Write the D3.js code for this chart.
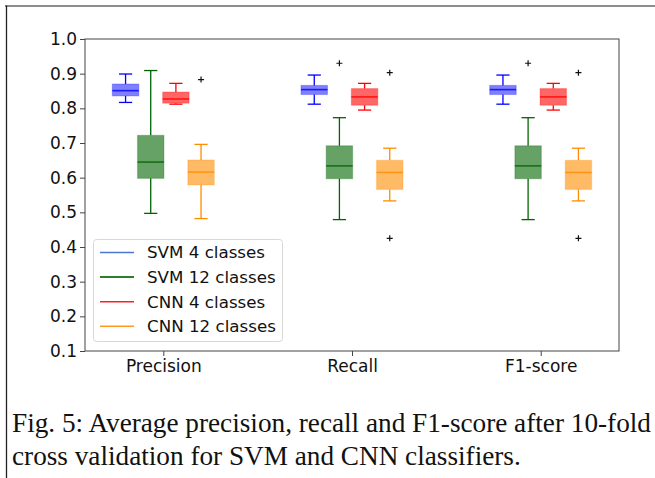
<!DOCTYPE html>
<html>
<head>
<meta charset="utf-8">
<script src="https://cdn.jsdelivr.net/npm/d3@7"></script>
<style>
  html, body { margin: 0; padding: 0; background: #fff; }
  svg { display: block; }
</style>
</head>
<body>
<svg id="chart" width="655" height="478"></svg>
<script>
// categories and series
const metrics = ['Precision', 'Recall', 'F1-score'];
const seriesNames = ['SVM 4 classes', 'SVM 12 classes', 'CNN 4 classes', 'CNN 12 classes'];
const yTicks = [0.1, 0.2, 0.3, 0.4, 0.5, 0.6, 0.7, 0.8, 0.9, 1.0];

// box stats per metric: [lower whisker, q1, median, q3, upper whisker]
const svm4 = [
	[0.817, 0.836, 0.851, 0.870, 0.899],
	[0.812, 0.840, 0.854, 0.866, 0.896],
	[0.812, 0.840, 0.854, 0.866, 0.896]
];
const svm12 = [
	[0.497, 0.598, 0.645, 0.722, 0.909],
	[0.479, 0.597, 0.634, 0.692, 0.773],
	[0.479, 0.597, 0.634, 0.692, 0.773]
];
const cnn4 = [
	[0.812, 0.815, 0.827, 0.847, 0.872],
	[0.795, 0.809, 0.833, 0.857, 0.872],
	[0.795, 0.809, 0.833, 0.857, 0.872]
];
const cnn12 = [
	[0.482, 0.579, 0.616, 0.651, 0.696],
	[0.533, 0.566, 0.615, 0.650, 0.685],
	[0.533, 0.566, 0.615, 0.650, 0.685]
];
// outliers ('+' markers)
const svm4Out = [[], [], []];
const svm12Out = [[], [0.930], [0.930]];
const cnn4Out = [[], [], []];
const cnn12Out = [[0.883], [0.903, 0.425], [0.903, 0.425]];

const captionLines = [
	'Fig. 5: Average precision, recall and F1-score after 10-fold',
	'cross validation for SVM and CNN classifiers.'
];

const allStats = [svm4, svm12, cnn4, cnn12];
const allOut = [svm4Out, svm12Out, cnn4Out, cnn12Out];
const colors = ['#0000ff', '#006400', '#ff0000', '#ff8c00'];
const fillOpacity = [0.5, 0.6, 0.6, 0.6];
const legendColors = ['#4a78d0', '#2e7d2e', '#ff2020', '#ff9a20'];
const offsets = [-0.2, -0.0667, 0.0667, 0.2];
const boxW = 0.14;

const svg = d3.select('#chart');
const font = '"DejaVu Sans", sans-serif';

// frame lines around the figure
svg.append('line').attr('x1', 5).attr('x2', 655).attr('y1', 6).attr('y2', 6)
	.attr('stroke', '#666').attr('stroke-width', 1.3);
svg.append('line').attr('x1', 6.5).attr('x2', 6.5).attr('y1', 5.5).attr('y2', 478)
	.attr('stroke', '#222').attr('stroke-width', 1.3);

const plotL = 85, plotR = 619, plotT = 39, plotB = 351;

const x = d3.scaleLinear().domain([0.585, 3.415]).range([plotL, plotR]);
const y = d3.scaleLinear().domain([0.1, 1.0]).range([plotB, plotT]);

const g = svg.append('g');

// boxes
allStats.forEach((stats, si) => {
	const c = colors[si];
	stats.forEach((s, mi) => {
		const cx = mi + 1 + offsets[si];
		const x0 = x(cx - boxW / 2), x1 = x(cx + boxW / 2);
		const xm = x(cx);
		const capHalf = (x1 - x0) / 4;
		const grp = g.append('g');
		// whiskers
		grp.append('line').attr('x1', xm).attr('x2', xm).attr('y1', y(s[3])).attr('y2', y(s[4]))
			.attr('stroke', c).attr('stroke-width', 1.3);
		grp.append('line').attr('x1', xm).attr('x2', xm).attr('y1', y(s[0])).attr('y2', y(s[1]))
			.attr('stroke', c).attr('stroke-width', 1.3);
		// caps
		[s[0], s[4]].forEach(v => {
			grp.append('line').attr('x1', xm - capHalf).attr('x2', xm + capHalf)
				.attr('y1', y(v)).attr('y2', y(v))
				.attr('stroke', c).attr('stroke-width', 1.3);
		});
		// box
		grp.append('rect').attr('x', x0).attr('width', x1 - x0)
			.attr('y', y(s[3])).attr('height', y(s[1]) - y(s[3]))
			.attr('fill', c).attr('fill-opacity', fillOpacity[si])
			.attr('stroke', c).attr('stroke-opacity', 0.25).attr('stroke-width', 1.2);
		// median
		grp.append('line').attr('x1', x0).attr('x2', x1).attr('y1', y(s[2])).attr('y2', y(s[2]))
			.attr('stroke', c).attr('stroke-opacity', 0.8).attr('stroke-width', 1.6);
		// outliers
		allOut[si][mi].forEach(v => {
			grp.append('path')
				.attr('d', `M${xm - 3},${y(v)}H${xm + 3}M${xm},${y(v) - 3}V${y(v) + 3}`)
				.attr('stroke', '#111').attr('stroke-width', 1.2).attr('fill', 'none');
		});
	});
});

// axes
const yAxis = d3.axisLeft(y).tickValues(yTicks).tickFormat(d3.format('.1f')).tickSizeOuter(0).tickSize(5).tickPadding(3);
const yg = g.append('g').attr('transform', `translate(${plotL},0)`).call(yAxis);
yg.select('.domain').remove();
yg.selectAll('line').attr('stroke', '#444');
yg.selectAll('text').attr('font-family', font).attr('font-size', 17).attr('fill', '#111');

const xAxis = d3.axisBottom(x).tickValues([1, 2, 3]).tickFormat((d, i) => metrics[i]).tickSize(5).tickPadding(4).tickSizeOuter(0);
const xg = g.append('g').attr('transform', `translate(0,${plotB})`).call(xAxis);
xg.select('.domain').remove();
xg.selectAll('line').attr('stroke', '#444');
xg.selectAll('text').attr('font-family', font).attr('font-size', 17).attr('fill', '#111');

// spines
g.append('rect').attr('x', plotL).attr('y', plotT).attr('width', plotR - plotL).attr('height', plotB - plotT)
	.attr('fill', 'none').attr('stroke', '#444').attr('stroke-width', 1);

// legend
const lg = g.append('g');
lg.append('rect').attr('x', 93.5).attr('y', 239.5).attr('width', 189).attr('height', 102).attr('rx', 3)
	.attr('fill', '#fff').attr('fill-opacity', 0.85).attr('stroke', '#d8d8d8').attr('stroke-width', 1);
seriesNames.forEach((name, i) => {
	const ly = 252.5 + i * 24.6;
	lg.append('line').attr('x1', 100).attr('x2', 134).attr('y1', ly).attr('y2', ly)
		.attr('stroke', legendColors[i]).attr('stroke-width', i === 1 ? 2 : 1.4);
	lg.append('text').attr('x', 147).attr('y', ly).attr('dy', '0.35em')
		.attr('font-family', font).attr('font-size', 16.7).attr('fill', '#111').text(name);
});

// caption
const cap = svg.append('g');
const capTexts = captionLines.map((t, i) => cap.append('text')
	.attr('x', 12).attr('y', 432 + i * 33)
	.attr('font-family', '"Liberation Serif", "Times New Roman", serif')
	.attr('font-size', 20).attr('fill', '#111').text(t));
const w0 = capTexts[0].node().getComputedTextLength();
const fs = 20 * 639 / w0;
capTexts.forEach(t => t.attr('font-size', fs));
</script>
</body>
</html>
